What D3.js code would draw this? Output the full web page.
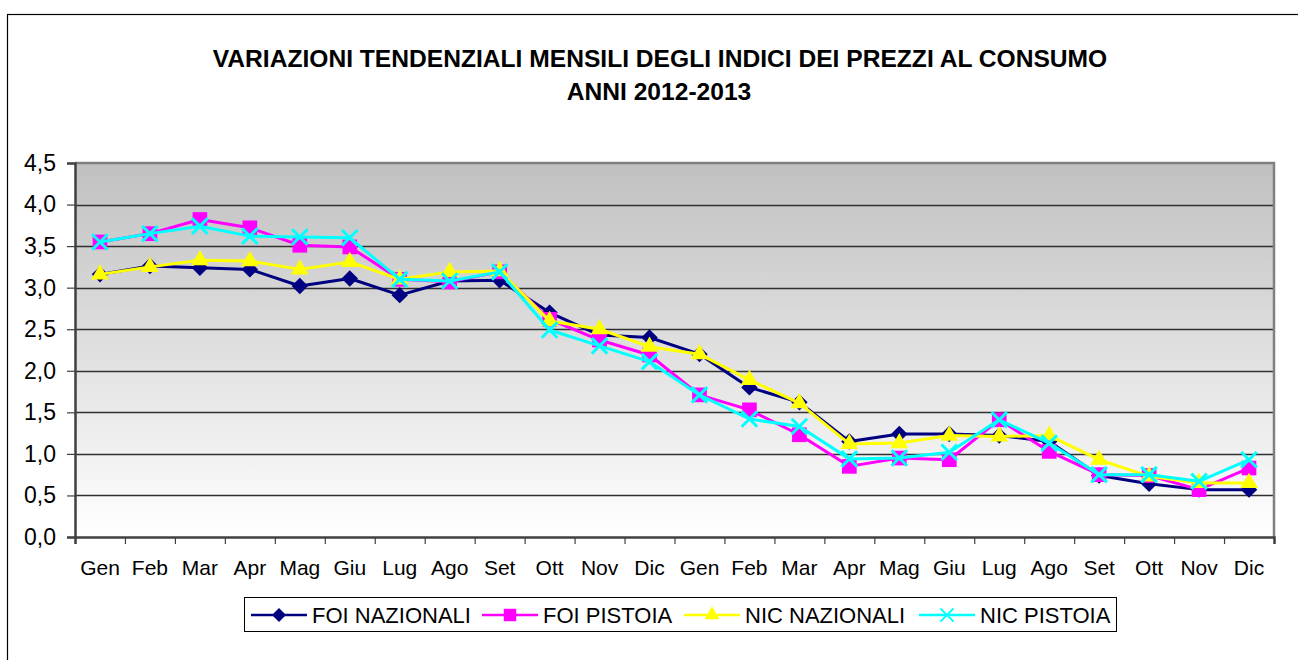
<!DOCTYPE html>
<html>
<head>
<meta charset="utf-8">
<script src="https://cdn.jsdelivr.net/npm/d3@7"></script>
<style>
  body { margin: 0; background: #fff; }
  svg { display: block; font-family: Arial, "Liberation Sans", sans-serif; }
</style>
</head>
<body>
<div id="chart"></div>
<script>
      var w = 1298;
      var h = 660;

      // data
      var months = ['Gen','Feb','Mar','Apr','Mag','Giu','Lug','Ago','Set','Ott','Nov','Dic',
                    'Gen','Feb','Mar','Apr','Mag','Giu','Lug','Ago','Set','Ott','Nov','Dic'];
      var yTicks = [0, 0.5, 1, 1.5, 2, 2.5, 3, 3.5, 4, 4.5];
      var seriesNames = ['FOI NAZIONALI', 'FOI PISTOIA', 'NIC NAZIONALI', 'NIC PISTOIA'];

      var foiNazionali = [3.16, 3.26, 3.24, 3.22, 3.02, 3.11, 2.91, 3.08, 3.09, 2.70, 2.43, 2.40,
                          2.20, 1.80, 1.62, 1.15, 1.24, 1.24, 1.22, 1.15, 0.74, 0.64, 0.57, 0.57];
      var foiPistoia   = [3.55, 3.65, 3.82, 3.72, 3.51, 3.49, 3.10, 3.07, 3.19, 2.62, 2.37, 2.19,
                          1.71, 1.53, 1.23, 0.85, 0.95, 0.93, 1.41, 1.03, 0.75, 0.74, 0.57, 0.83];
      var nicNazionali = [3.16, 3.25, 3.33, 3.32, 3.22, 3.31, 3.10, 3.19, 3.20, 2.60, 2.50, 2.29,
                          2.20, 1.89, 1.61, 1.12, 1.13, 1.22, 1.21, 1.22, 0.93, 0.73, 0.65, 0.65];
      var nicPistoia   = [3.55, 3.65, 3.74, 3.62, 3.61, 3.60, 3.10, 3.08, 3.19, 2.49, 2.30, 2.11,
                          1.71, 1.42, 1.33, 0.94, 0.95, 1.02, 1.41, 1.13, 0.75, 0.75, 0.67, 0.93];

      var colors = ['#000080', '#ff00ff', '#ffff00', '#00ffff'];

      var series = [foiNazionali, foiPistoia, nicNazionali, nicPistoia].map(function(v, i) {
        return { name: seriesNames[i], values: v, color: colors[i], idx: i };
      });

      var plot = { left: 75, right: 1274, top: 163, bottom: 537 };

      var svg = d3.select('#chart').append('svg')
            .attr('width', w)
            .attr('height', h);

      // outer frame of the chart object
      svg.append('rect')
        .attr('x', 7.5).attr('y', 14.5)
        .attr('width', w + 20).attr('height', h + 20)
        .attr('fill', 'none')
        .attr('stroke', '#000')
        .attr('stroke-width', 1.2);

      //Title
      svg.append('text')
        .attr('x', 660).attr('y', 67)
        .attr('text-anchor', 'middle')
        .style('font-weight', 'bold').style('font-size', '24.6px')
        .text('VARIAZIONI TENDENZIALI MENSILI DEGLI INDICI DEI PREZZI AL CONSUMO');
      svg.append('text')
        .attr('x', 659).attr('y', 100)
        .attr('text-anchor', 'middle')
        .style('font-weight', 'bold').style('font-size', '24.6px')
        .text('ANNI 2012-2013');

      //Scales
      var xScale = d3.scaleBand()
            .domain(d3.range(months.length))
            .range([plot.left, plot.right]);

      var xEdge = d3.scaleLinear()
            .domain([0, months.length])
            .range([plot.left, plot.right]);

      var yScale = d3.scaleLinear()
            .domain([0, 4.5])
            .range([plot.bottom, plot.top]);

      // plot area gradient
      var grad = svg.append('defs').append('linearGradient')
            .attr('id', 'bg').attr('x1', 0).attr('y1', 0).attr('x2', 0).attr('y2', 1);
      grad.append('stop').attr('offset', '0%').attr('stop-color', '#c0c0c0');
      grad.append('stop').attr('offset', '100%').attr('stop-color', '#ffffff');

      svg.append('rect')
        .attr('x', plot.left).attr('y', plot.top)
        .attr('width', plot.right - plot.left)
        .attr('height', plot.bottom - plot.top)
        .attr('fill', 'url(#bg)');

      // gridlines
      svg.append('g')
        .selectAll('line')
        .data(yTicks.slice(1, -1))
        .enter().append('line')
        .attr('x1', plot.left).attr('x2', plot.right)
        .attr('y1', function(d) { return Math.round(yScale(d)) + 0.5; })
        .attr('y2', function(d) { return Math.round(yScale(d)) + 0.5; })
        .attr('stroke', '#303030')
        .attr('stroke-width', 1.5);

      // top + right border of plot
      svg.append('path')
        .attr('d', 'M' + plot.left + ',' + plot.top + 'H' + plot.right + 'V' + plot.bottom)
        .attr('fill', 'none')
        .attr('stroke', '#808080')
        .attr('stroke-width', 2.5);

      //Y axis
      var yAxis = d3.axisLeft(yScale)
            .tickValues(yTicks)
            .tickSize(8)
            .tickPadding(11)
            .tickFormat(function(d) { return d3.format('.1f')(d).replace('.', ','); });

      var gy = svg.append('g')
        .attr('transform', 'translate(' + plot.left + ',0)')
        .call(yAxis);
      gy.select('.domain').attr('stroke', '#404040').attr('stroke-width', 2.5);
      gy.selectAll('.tick line').attr('stroke', '#404040').attr('stroke-width', 1.2);
      gy.selectAll('.tick text')
        .style('font-size', '23px')
        .attr('fill', '#000')
        .attr('font-family', 'Arial, "Liberation Sans", sans-serif');

      //X axis: tick marks on band edges, labels on centers
      var xTickAxis = d3.axisBottom(xEdge)
            .tickValues(d3.range(months.length + 1))
            .tickSize(7)
            .tickFormat('');
      var gx = svg.append('g')
        .attr('transform', 'translate(0,' + plot.bottom + ')')
        .call(xTickAxis);
      gx.select('.domain').attr('stroke', '#404040').attr('stroke-width', 2.5);
      gx.selectAll('.tick line').attr('stroke', '#404040').attr('stroke-width', 1.2);

      var xAxis = d3.axisBottom(xScale)
            .tickSize(0)
            .tickPadding(23)
            .tickFormat(function(i) { return months[i]; });
      var gxl = svg.append('g')
        .attr('transform', 'translate(0,' + plot.bottom + ')')
        .call(xAxis);
      gxl.select('.domain').remove();
      gxl.selectAll('.tick text')
        .style('font-size', '21px')
        .attr('fill', '#000')
        .attr('font-family', 'Arial, "Liberation Sans", sans-serif');

      // marker shapes
      var xMark = {
        draw: function(ctx, size) {
          var r = Math.sqrt(size) / 2;
          ctx.moveTo(-r, -r); ctx.lineTo(r, r);
          ctx.moveTo(r, -r); ctx.lineTo(-r, r);
        }
      };
      function markerPath(i, scale) {
        var s = scale || 1;
        if (i === 0) return d3.symbol().type(d3.symbolSquare).size(135 * s * s)();
        if (i === 1) return d3.symbol().type(d3.symbolSquare).size(215 * s * s)();
        if (i === 2) return d3.symbol().type(d3.symbolTriangle).size(135 * s * s)();
        return d3.symbol().type(xMark).size(240 * s * s)();
      }
      function markerTransform(i) {
        return i === 0 ? ' rotate(45)' : '';
      }
      function styleMarker(sel, d) {
        if (d.idx === 3) {
          sel.attr('fill', 'none').attr('stroke', d.color).attr('stroke-width', 3);
        } else {
          sel.attr('fill', d.color).attr('stroke', 'none');
        }
      }

      var line = d3.line()
            .x(function(v, i) { return xScale(i) + xScale.bandwidth() / 2; })
            .y(function(v) { return yScale(v); });

      var gs = svg.selectAll('.series')
        .data(series)
        .enter().append('g')
        .attr('class', 'series');

      gs.append('path')
        .attr('d', function(d) { return line(d.values); })
        .attr('fill', 'none')
        .attr('stroke', function(d) { return d.color; })
        .attr('stroke-width', 3)
        .attr('stroke-linejoin', 'round');

      gs.each(function(d) {
        d3.select(this).selectAll('.symbol')
          .data(d.values)
          .enter().append('path')
          .attr('class', 'symbol')
          .attr('d', markerPath(d.idx))
          .attr('transform', function(v, i) {
            return 'translate(' + (xScale(i) + xScale.bandwidth() / 2) + ',' + yScale(v) + ')' + markerTransform(d.idx);
          })
          .call(styleMarker, d);
      });

      //Legend
      var legendX = [251, 482, 684, 919];
      var legendY = 615;

      svg.append('rect')
        .attr('x', 244.5).attr('y', 597.5)
        .attr('width', 872).attr('height', 34)
        .attr('fill', '#fff')
        .attr('stroke', '#000')
        .attr('stroke-width', 1);

      var legend = svg.selectAll('.legend')
        .data(series)
        .enter().append('g')
        .attr('class', 'legend')
        .attr('transform', function(d, i) { return 'translate(' + legendX[i] + ',' + legendY + ')'; });

      legend.append('line')
        .attr('x1', 0).attr('x2', 56)
        .attr('y1', 0).attr('y2', 0)
        .attr('stroke', function(d) { return d.color; })
        .attr('stroke-width', 2.5);

      legend.append('path')
        .attr('d', function(d) { return markerPath(d.idx, 0.85); })
        .attr('transform', function(d) { return 'translate(28,0)' + markerTransform(d.idx); })
        .each(function(d) { d3.select(this).call(styleMarker, d); })
        .attr('stroke-width', function(d) { return d.idx === 3 ? 2 : null; });

      legend.append('text')
        .attr('x', 61)
        .attr('y', 7.5)
        .style('font-size', '22px')
        .text(function(d) { return d.name; });
</script>
</body>
</html>
